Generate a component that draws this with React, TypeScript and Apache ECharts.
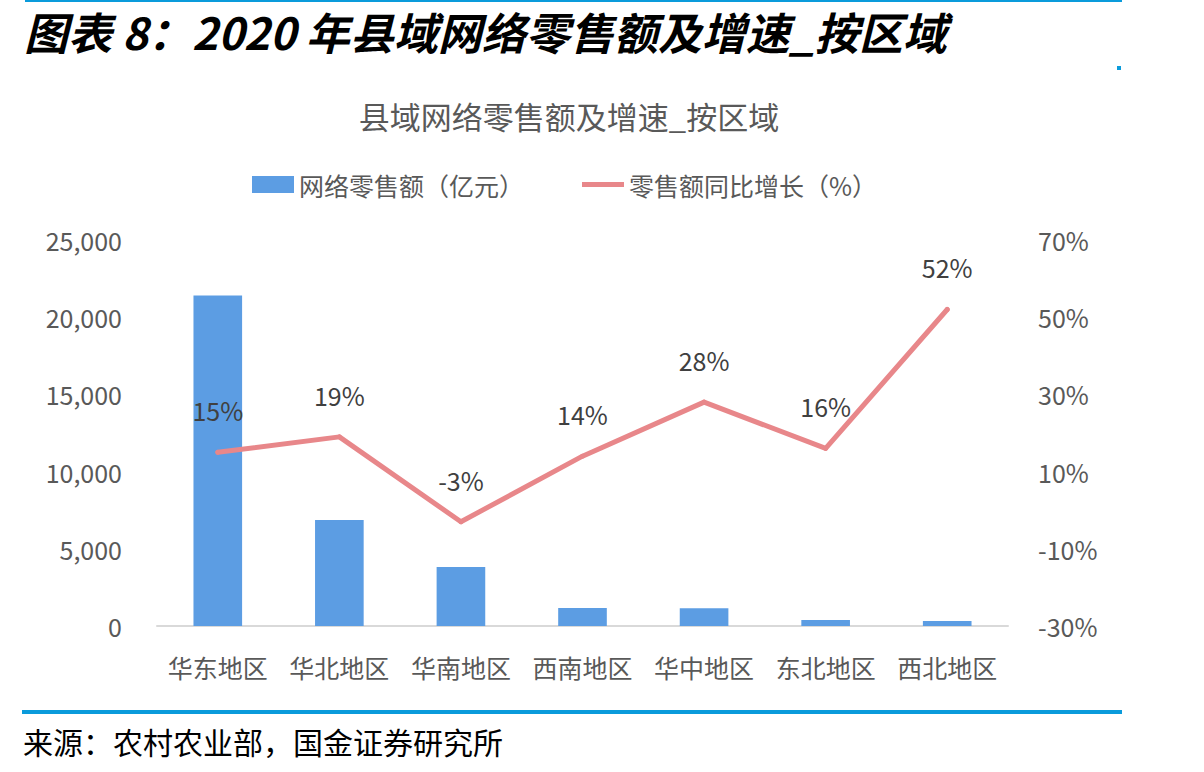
import React, { useEffect, useRef } from "react";
import * as echarts from "echarts";

// Regions on the category axis
const regions = ["华东地区", "华北地区", "华南地区", "西南地区", "华中地区", "东北地区", "西北地区"];
// County-level online retail sales, 100 million yuan
const retailSales = [21400, 6870, 3820, 1170, 1150, 390, 320];
// Year-on-year growth, %
const growthPct = [15, 19, -3, 14, 28, 16, 52];

// Axis ranges: min, max, interval
const salesAxis = [0, 25000, 5000];
const growthAxis = [-30, 70, 20];

const heading = "图表 8：2020 年县域网络零售额及增速_按区域";
const chartTitle = "县域网络零售额及增速_按区域";
const legendNames = ["网络零售额（亿元）", "零售额同比增长（%）"];
const sourceNote = "来源：农村农业部，国金证券研究所";

const FONT = "'Noto Sans CJK SC', 'Noto Sans', sans-serif";
const BLUE = "#5C9DE3";
const RED = "#E8878A";
const TEXT = "#595959";
const RULE = "#0A9BDB";

export default function App() {
  const ref = useRef<HTMLDivElement>(null);

  useEffect(() => {
    const el = ref.current;
    if (!el) return;
    const chart = echarts.init(el, undefined, { renderer: "svg" });
    chart.setOption({
      animation: false,
      backgroundColor: "#ffffff",
      textStyle: { fontFamily: FONT },
      grid: { left: 157, right: 196, top: 240, bottom: 146, containLabel: false },
      legend: {
        left: 247,
        top: 167,
        itemWidth: 42,
        itemHeight: 17,
        itemGap: 58,
        textStyle: { fontSize: 25, color: TEXT, fontFamily: FONT },
        data: [
          { name: legendNames[0], icon: "rect" },
          { name: legendNames[1], icon: "path://M0 0 H42 V5 H0 Z", itemStyle: { color: RED } },
        ],
      },
      xAxis: {
        type: "category",
        data: regions,
        axisLine: { show: true, lineStyle: { color: "#D9D9D9", width: 2 } },
        axisTick: { show: false },
        axisLabel: { fontSize: 25, color: TEXT, margin: 28, fontFamily: FONT, interval: 0 },
      },
      yAxis: [
        {
          type: "value",
          min: salesAxis[0],
          max: salesAxis[1],
          interval: salesAxis[2],
          splitLine: { show: false },
          axisLine: { show: false },
          axisTick: { show: false },
          axisLabel: {
            fontSize: 25,
            color: TEXT,
            margin: 35,
            fontFamily: FONT,
            formatter: (v: number) => v.toLocaleString("en-US"),
          },
        },
        {
          type: "value",
          min: growthAxis[0],
          max: growthAxis[1],
          interval: growthAxis[2],
          splitLine: { show: false },
          axisLine: { show: false },
          axisTick: { show: false },
          axisLabel: {
            fontSize: 25,
            color: TEXT,
            margin: 30,
            fontFamily: FONT,
            formatter: (v: number) => `${v}%`,
          },
        },
      ],
      series: [
        {
          name: legendNames[0],
          type: "bar",
          data: retailSales,
          barWidth: "40%",
          itemStyle: { color: BLUE },
        },
        {
          name: legendNames[1],
          type: "line",
          yAxisIndex: 1,
          data: growthPct,
          symbol: "circle",
          symbolSize: 5,
          showSymbol: true,
          lineStyle: { color: RED, width: 5, cap: "round", join: "round" },
          itemStyle: { color: RED },
          label: {
            show: true,
            position: "top",
            distance: 27,
            fontSize: 25,
            color: "#404040",
            fontFamily: FONT,
            formatter: (p: any) => `${p.value}%`,
          },
        },
      ],
      graphic: [
        {
          type: "line",
          shape: { x1: 25, y1: 1, x2: 1122, y2: 1 },
          style: { stroke: RULE, lineWidth: 2 },
        },
        {
          type: "text",
          x: 24,
          y: 31,
          style: {
            text: heading,
            fontSize: 44,
            fontWeight: "bold",
            fontStyle: "italic",
            fontFamily: FONT,
            fill: "#000000",
            align: "left",
            verticalAlign: "middle",
          },
        },
        {
          type: "rect",
          shape: { x: 1117, y: 66, width: 4, height: 4 },
          style: { fill: RULE },
        },
        {
          type: "text",
          x: 569,
          y: 115,
          style: {
            text: chartTitle,
            fontSize: 31,
            fontFamily: FONT,
            fill: TEXT,
            align: "center",
            verticalAlign: "middle",
          },
        },
        {
          type: "line",
          shape: { x1: 22, y1: 712, x2: 1122, y2: 712 },
          style: { stroke: RULE, lineWidth: 4 },
        },
        {
          type: "text",
          x: 23,
          y: 741,
          style: {
            text: sourceNote,
            fontSize: 30,
            fontFamily: FONT,
            fill: "#000000",
            align: "left",
            verticalAlign: "middle",
          },
        },
      ],
    });
    return () => chart.dispose();
  }, []);

  return (
    <div
      ref={ref}
      style={{ position: "fixed", left: 0, top: 0, width: 1204, height: 772, background: "#fff" }}
    />
  );
}
